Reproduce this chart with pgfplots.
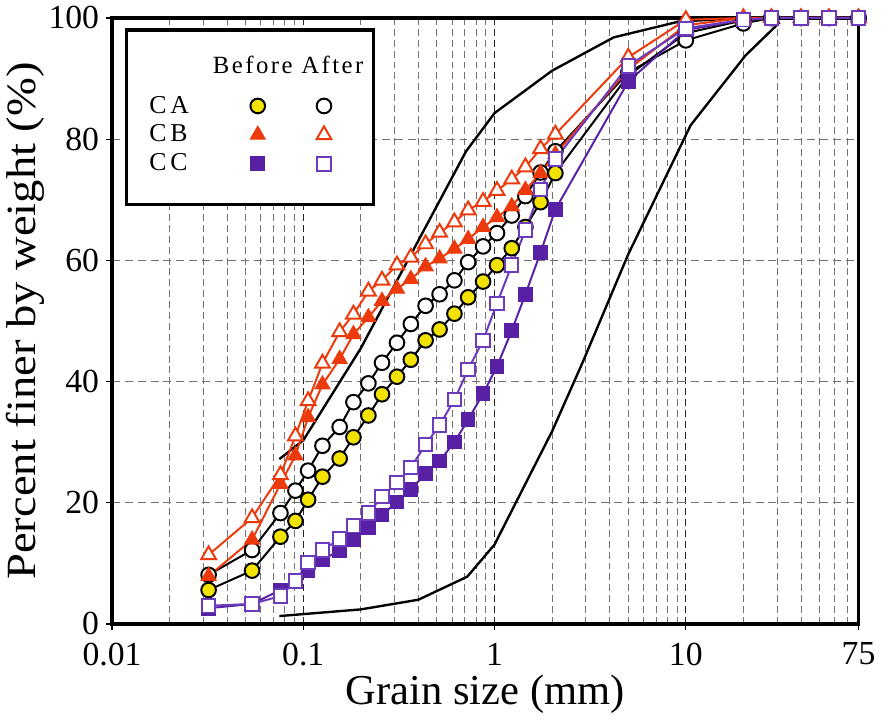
\documentclass[border=0pt]{standalone}
\usepackage{fontspec}
\setmainfont{Liberation Serif}
\newfontfamily\spaced[LetterSpace=15]{Liberation Serif}
\newfontfamily\spacedh[LetterSpace=10]{Liberation Serif}
\usepackage{graphicx}
\usepackage{pgfplots}
\usepackage{pgfplotstable}
\pgfplotsset{compat=1.18}

\definecolor{cayel}{RGB}{242,226,0}
\definecolor{cborg}{RGB}{236,58,12}
\definecolor{ccpur}{RGB}{88,32,164}
\definecolor{ccpurl}{RGB}{108,58,188}

% grain size (mm) vs percent finer
\pgfplotstableread{
x      cab   caa   cbb   cba   ccb   cca
0.032  5.6   8.1   7.9   11.4  2.6   3.0
0.054  8.8   12.2  13.9  17.5  3.3   3.3
0.076  14.4  18.3  23.1  24.6  5.6   4.6
0.091  17.0  22.0  27.8  31.0  7.2   7.1
0.106  20.5  25.3  34.1  36.8  8.8   10.1
0.126  24.3  29.4  39.5  43.0  10.6  12.2
0.155  27.3  32.5  43.7  48.2  12.1  14.0
0.183  30.8  36.6  47.8  51.1  13.9  16.2
0.219  34.4  39.7  50.6  54.9  15.9  18.3
0.258  37.9  43.1  53.3  56.7  18.0  21.0
0.309  40.8  46.4  55.3  59.2  20.1  23.3
0.365  43.6  49.5  56.9  60.5  22.2  25.8
0.436  46.8  52.5  59.0  62.7  24.8  29.6
0.516  48.6  54.4  60.3  64.6  26.9  32.8
0.617  51.2  56.7  61.9  66.3  30.0  37.0
0.728  53.9  59.7  63.5  68.3  33.7  42.0
0.871  56.5  62.3  65.5  69.7  38.0  46.8
1.03   59.2  64.5  67.1  71.5  42.5  52.9
1.23   62.0  67.4  68.9  73.4  48.4  59.2
1.45   65.5  70.6  71.6  75.4  54.4  65.0
1.74   69.6  74.5  74.4  78.4  61.3  71.7
2.08   74.4  78.0  77.5  80.8  68.4  76.7
5      90.5  91.0  91.5  93.5  89.5  92.1
10     97.5  96.3  98.8  99.7  98.0  98.3
20     99.6  99.1  100   100   99.7  99.7
28     100   100   100   100   100   100
40     100   100   100   100   100   100
56     100   100   100   100   100   100
80     100   100   100   100   100   100
}\grain

\begin{document}
\begin{tikzpicture}
\begin{axis}[
  xmode=log,
  scale only axis,
  width=377pt, height=306pt,
  xmin=0.01, xmax=80, ymin=0, ymax=100,
  xtick={0.01,0.1,1,10,80},
  xticklabels={0.01,0.1,1,10,75},
  minor xtick={0.02,0.03,0.04,0.05,0.06,0.07,0.08,0.09,
               0.2,0.3,0.4,0.5,0.6,0.7,0.8,0.9,
               2,3,4,5,6,7,8,9,20,30,40,50,60,70},
  ytick={0,20,40,60,80,100},
  grid=both,
  major x grid style={dash pattern=on 3.5pt off 2pt, black!85, line width=0.5pt},
  minor x grid style={dash pattern=on 3.5pt off 2pt, black!55, line width=0.5pt},
  major y grid style={dash pattern=on 4pt off 2.5pt, black!55, line width=0.6pt},
  axis line style={line width=1.6pt},
  tick align=outside,
  xtick pos=left, ytick pos=left,
  major tick length=3pt, minor tick length=0pt,
  tick style={black, line width=0.6pt},
  xlabel={Grain size (mm)},
  ylabel={\scalebox{1.12}[1]{Percent finer by weight (\%)}},
  xlabel style={font=\fontsize{21.5}{21.5}\selectfont, yshift=2pt},
  ylabel style={font=\fontsize{21}{21}\selectfont},
  ylabel shift=-5pt,
  tick label style={font=\fontsize{17}{17}\selectfont},
  xticklabel style={yshift=-3pt},
  /pgf/number format/assume math mode=true,
  clip=false,
  legend columns=3,
  legend cell align=left,
  legend style={draw=none, fill=none,
    at={(rel axis cs:0.031,0.885)}, anchor=north west,
    font=\spaced\fontsize{13}{13}\selectfont,
    row sep=0.5pt, column sep=2pt,
    /tikz/every even column/.append style={column sep=20pt}},
]
% gradation limits
\addplot[forget plot, black, line width=1.2pt] coordinates {
  (0.075,27.2)(0.1,30.3)(0.2,45.5)(0.71,78)(1.0,84.3)(2.0,91.3)
  (4.2,96.8)(9.2,99.4)(20,100)};
\addplot[forget plot, black, line width=1.2pt] coordinates {
  (0.075,1.3)(0.2,2.4)(0.4,4.0)(0.72,7.8)(1.0,13.1)(2.0,31.8)
  (2.9,43.3)(5.0,61)(10.6,82.3)(20.5,93.8)(31,99.3)};

% samples
\addplot[forget plot, black, line width=1pt, mark=*, mark size=3.7pt,
  mark options={fill=cayel, draw=black, line width=1pt}]
  table[x=x, y=cab] {\grain};
\addplot[forget plot, black, line width=1pt, mark=*, mark size=3.7pt,
  mark options={fill=white, draw=black, line width=1pt}]
  table[x=x, y=caa] {\grain};
\addplot[forget plot, cborg, line width=1pt, mark=triangle*, mark size=4.3pt,
  mark options={fill=cborg, draw=cborg, line width=0.6pt}]
  table[x=x, y=cbb] {\grain};
\addplot[forget plot, cborg, line width=1pt, mark=triangle*, mark size=4.3pt,
  mark options={fill=white, draw=cborg, line width=1pt}]
  table[x=x, y=cba] {\grain};
\addplot[forget plot, ccpur, line width=1pt, mark=square*, mark size=3.4pt,
  mark options={fill=ccpur, draw=ccpur, line width=0.6pt}]
  table[x=x, y=ccb] {\grain};
\addplot[forget plot, ccpurl, line width=1pt, mark=square*, mark size=3.4pt,
  mark options={fill=white, draw=ccpurl, line width=1pt}]
  table[x=x, y=cca] {\grain};

% legend frame and header
\draw[line width=1.6pt, fill=white]
  (rel axis cs:0.0199,0.6926) rectangle (rel axis cs:0.350,0.980);
\node[font=\spacedh\fontsize{12.5}{12.5}\selectfont, anchor=base]
  at (rel axis cs:0.236,0.909) {Before After};

\addlegendimage{empty legend}\addlegendentry{\makebox[29pt][l]{CA}}
\addlegendimage{only marks, mark=*, mark size=3.7pt,
  mark options={fill=cayel, draw=black, line width=1pt}}\addlegendentry{}
\addlegendimage{only marks, mark=*, mark size=3.7pt,
  mark options={fill=white, draw=black, line width=1pt}}\addlegendentry{}
\addlegendimage{empty legend}\addlegendentry{\makebox[29pt][l]{CB}}
\addlegendimage{only marks, mark=triangle*, mark size=4.3pt,
  mark options={fill=cborg, draw=cborg, line width=0.6pt}}\addlegendentry{}
\addlegendimage{only marks, mark=triangle*, mark size=4.3pt,
  mark options={fill=white, draw=cborg, line width=1pt}}\addlegendentry{}
\addlegendimage{empty legend}\addlegendentry{\makebox[29pt][l]{CC}}
\addlegendimage{only marks, mark=square*, mark size=3.4pt,
  mark options={fill=ccpur, draw=ccpur, line width=0.6pt}}\addlegendentry{}
\addlegendimage{only marks, mark=square*, mark size=3.4pt,
  mark options={fill=white, draw=ccpurl, line width=1pt}}\addlegendentry{}
\end{axis}
\end{tikzpicture}
\end{document}
